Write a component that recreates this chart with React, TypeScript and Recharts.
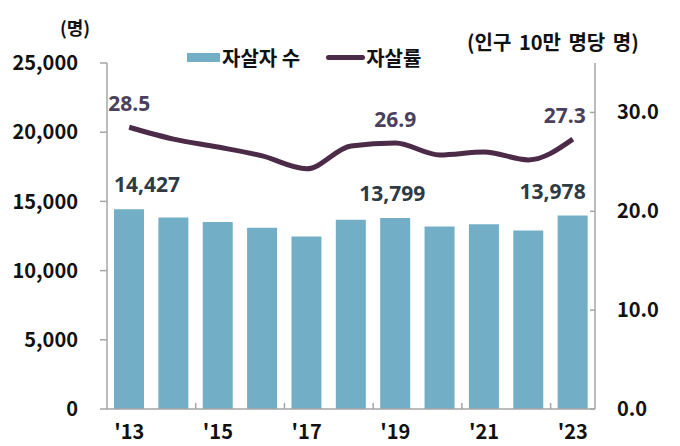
import { Bar, ComposedChart, LabelList, Line, XAxis, YAxis } from "recharts";

const years = ["'13", "'14", "'15", "'16", "'17", "'18", "'19", "'20", "'21", "'22", "'23"];
const suicides = [14427, 13836, 13513, 13092, 12463, 13670, 13799, 13195, 13352, 12906, 13978];
const rates = [28.5, 27.3, 26.5, 25.6, 24.3, 26.6, 26.9, 25.7, 26.0, 25.2, 27.3];
const leftTicks = [0, 5000, 10000, 15000, 20000, 25000];
const rightTicks = [0, 10, 20, 30];
const labelled = [0, 6, 10];

const data = years.map((year, i) => ({ year, count: suicides[i], rate: rates[i] }));

const BAR = "#73aec7";
const LINE = "#4b2b47";
const AXIS = "#a6a6a6";
const FONT = "'Noto Sans CJK KR', 'Noto Sans', sans-serif";

const PLOT_LEFT = 107;
const PLOT_RIGHT = 595;
const BAND = (PLOT_RIGHT - PLOT_LEFT) / years.length;

function XTick(props: any) {
  const { x, y, index, payload } = props;
  if (index % 2 !== 0) return null;
  return (
    <g>
      {index > 0 && <line x1={x - BAND / 2} x2={x - BAND / 2} y1={y} y2={y - 6} stroke={AXIS} strokeWidth={1.5} />}
      <text x={x} y={y + 30} textAnchor="middle" fontFamily={FONT} fontWeight={700} fontSize={20} fill="#111">
        {payload.value}
      </text>
    </g>
  );
}

function RightTick(props: any) {
  const { x, y, payload } = props;
  return (
    <g>
      <line x1={x - 22 - 5} x2={x - 22} y1={y} y2={y} stroke={AXIS} strokeWidth={1.5} />
      <text x={x} y={y + 7} textAnchor="start" fontFamily={FONT} fontWeight={700} fontSize={20} fill="#111">
        {payload.value.toFixed(1)}
      </text>
    </g>
  );
}

function CountLabel(props: any) {
  const { x, y, width, index, value } = props;
  if (!labelled.includes(index)) return null;
  const shift = index === 0 ? 18 : index === 10 ? -20 : -3;
  return (
    <text x={x + width / 2 + shift} y={y - 17} textAnchor="middle" fontFamily="'Open Sans', sans-serif" fontWeight={700} fontSize={21} fill="#2e3b44">
      {value.toLocaleString("en-US")}
    </text>
  );
}

function RateLabel(props: any) {
  const { x, y, index, value } = props;
  if (!labelled.includes(index)) return null;
  return (
    <text x={index === 10 ? x - 8 : x} y={y - 16} textAnchor="middle" fontFamily="'Open Sans', sans-serif" fontWeight={700} fontSize={21} fill="#4a3f5c">
      {value.toFixed(1)}
    </text>
  );
}

export default function App() {
  return (
    <div style={{ position: "absolute", left: 0, top: 0, width: 680, height: 446, background: "#fff", fontFamily: FONT }}>
      <div style={{ position: "absolute", left: 60, top: 14, fontSize: 18, fontWeight: 700, color: "#111" }}>(명)</div>
      <div style={{ position: "absolute", left: 467, top: 27, fontSize: 20, fontWeight: 700, color: "#111", wordSpacing: 3, whiteSpace: "nowrap" }}>
        (인구 10만 명당 명)
      </div>
      <div style={{ position: "absolute", left: 187, top: 43, display: "flex", alignItems: "center", fontSize: 20, fontWeight: 700, color: "#111", whiteSpace: "nowrap" }}>
        <span style={{ display: "inline-block", width: 33, height: 9, background: BAR, marginRight: 2 }} />
        <span>자살자 수</span>
        <span style={{ display: "inline-block", width: 39, height: 5, borderRadius: 3, background: LINE, marginLeft: 26, marginRight: 1 }} />
        <span>자살률</span>
      </div>
      <ComposedChart width={680} height={446} data={data} margin={{ top: 63, right: 0, bottom: 0, left: 0 }}>
        <XAxis
          dataKey="year"
          interval={0}
          height={37}
          tickSize={0}
          tickMargin={0}
          tickLine={false}
          axisLine={{ stroke: AXIS, strokeWidth: 1.5 }}
          tick={<XTick />}
        />
        <YAxis
          yAxisId="left"
          width={107}
          domain={[0, 25000]}
          ticks={leftTicks}
          tickFormatter={(v: number) => v.toLocaleString("en-US")}
          tickSize={7}
          tickMargin={22}
          axisLine={{ stroke: AXIS, strokeWidth: 1.5 }}
          tickLine={{ stroke: AXIS, strokeWidth: 1.5 }}
          tick={{ fontFamily: FONT, fontWeight: 700, fontSize: 20, fill: "#111" }}
        />
        <YAxis
          yAxisId="right"
          orientation="right"
          width={85}
          domain={[0, 35]}
          ticks={rightTicks}
          tickSize={0}
          tickMargin={22}
          axisLine={{ stroke: AXIS, strokeWidth: 1.5 }}
          tickLine={false}
          tick={<RightTick />}
        />
        <Bar yAxisId="left" dataKey="count" fill={BAR} barSize={30} isAnimationActive={false}>
          <LabelList dataKey="count" content={<CountLabel />} />
        </Bar>
        <Line yAxisId="right" dataKey="rate" type="monotone" stroke={LINE} strokeWidth={5} dot={false} isAnimationActive={false}>
          <LabelList dataKey="rate" content={<RateLabel />} />
        </Line>
      </ComposedChart>
    </div>
  );
}
